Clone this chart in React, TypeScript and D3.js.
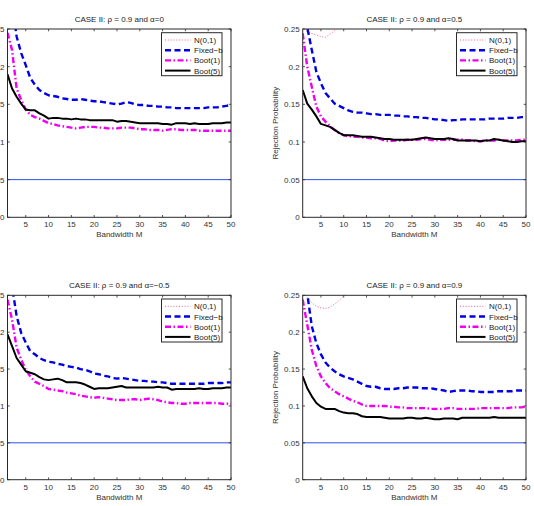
import * as d3 from 'd3';

// Bandwidth grid M = 1..50
const bandwidths = d3.range(1, 51);

const xTicks = [5, 10, 15, 20, 25, 30, 35, 40, 45, 50];
const yTicks = [0, 0.05, 0.1, 0.15, 0.2, 0.25];
const nominalLevel = 0.05;

const seriesNames = ['N(0,1)', 'Fixed\u2212b', 'Boot(1)', 'Boot(5)'];

const panelTitles = [
  'CASE II: \u03c1 = 0.9 and \u03b1=0',
  'CASE II: \u03c1 = 0.9 and \u03b1=0.5',
  'CASE II: \u03c1 = 0.9 and \u03b1=\u22120.5',
  'CASE II: \u03c1 = 0.9 and \u03b1=0.9',
];

// alpha = 0
const n01A0 = [0.40, 0.35, 0.32, 0.30, 0.295, 0.29, 0.29, 0.29, 0.292, 0.295, 0.297, 0.30, 0.30, 0.302, 0.305, 0.305, 0.307, 0.31, 0.31, 0.312, 0.313, 0.315, 0.316, 0.318, 0.32, 0.32, 0.322, 0.323, 0.325, 0.326, 0.327, 0.328, 0.33, 0.33, 0.332, 0.333, 0.335, 0.336, 0.337, 0.338, 0.34, 0.34, 0.342, 0.343, 0.345, 0.346, 0.347, 0.348, 0.35, 0.35];
const fixedA0 = [0.330, 0.285, 0.240, 0.218, 0.202, 0.185, 0.176, 0.169, 0.165, 0.162, 0.161, 0.160, 0.158, 0.157, 0.156, 0.156, 0.157, 0.156, 0.155, 0.154, 0.154, 0.153, 0.152, 0.151, 0.150, 0.151, 0.153, 0.152, 0.150, 0.149, 0.149, 0.148, 0.148, 0.147, 0.147, 0.146, 0.146, 0.145, 0.145, 0.145, 0.145, 0.145, 0.145, 0.145, 0.146, 0.146, 0.146, 0.147, 0.148, 0.149];
const boot1A0 = [0.245, 0.222, 0.171, 0.156, 0.143, 0.136, 0.133, 0.131, 0.128, 0.125, 0.124, 0.122, 0.121, 0.120, 0.119, 0.118, 0.119, 0.120, 0.120, 0.120, 0.119, 0.119, 0.118, 0.118, 0.118, 0.119, 0.119, 0.119, 0.118, 0.117, 0.117, 0.116, 0.116, 0.116, 0.115, 0.116, 0.117, 0.117, 0.116, 0.116, 0.116, 0.116, 0.115, 0.115, 0.115, 0.115, 0.115, 0.115, 0.115, 0.115];
const boot5A0 = [0.190, 0.171, 0.160, 0.151, 0.143, 0.142, 0.142, 0.138, 0.135, 0.131, 0.132, 0.132, 0.131, 0.131, 0.130, 0.131, 0.130, 0.130, 0.129, 0.129, 0.129, 0.129, 0.129, 0.129, 0.127, 0.128, 0.128, 0.127, 0.126, 0.125, 0.125, 0.125, 0.125, 0.125, 0.124, 0.124, 0.123, 0.125, 0.125, 0.125, 0.124, 0.125, 0.124, 0.124, 0.124, 0.125, 0.125, 0.125, 0.126, 0.126];

// alpha = 0.5
const n01A05 = [0.265, 0.246, 0.244, 0.242, 0.240, 0.239, 0.243, 0.248, 0.256, 0.265, 0.272, 0.278, 0.283, 0.287, 0.29, 0.293, 0.296, 0.298, 0.30, 0.302, 0.304, 0.306, 0.308, 0.31, 0.312, 0.313, 0.315, 0.316, 0.318, 0.32, 0.321, 0.322, 0.324, 0.325, 0.326, 0.328, 0.329, 0.33, 0.331, 0.332, 0.334, 0.335, 0.336, 0.337, 0.338, 0.339, 0.34, 0.341, 0.342, 0.343];
const fixedA05 = [0.300, 0.252, 0.222, 0.193, 0.178, 0.165, 0.158, 0.151, 0.148, 0.145, 0.142, 0.140, 0.139, 0.139, 0.138, 0.137, 0.137, 0.136, 0.136, 0.136, 0.135, 0.135, 0.134, 0.134, 0.133, 0.133, 0.132, 0.132, 0.131, 0.130, 0.130, 0.129, 0.128, 0.129, 0.129, 0.130, 0.130, 0.130, 0.130, 0.130, 0.130, 0.131, 0.131, 0.131, 0.131, 0.132, 0.132, 0.132, 0.133, 0.133];
const boot1A05 = [0.244, 0.200, 0.173, 0.147, 0.134, 0.127, 0.121, 0.116, 0.112, 0.109, 0.108, 0.107, 0.107, 0.106, 0.106, 0.105, 0.105, 0.104, 0.102, 0.101, 0.102, 0.102, 0.102, 0.103, 0.103, 0.103, 0.104, 0.104, 0.103, 0.102, 0.103, 0.103, 0.103, 0.103, 0.103, 0.103, 0.102, 0.102, 0.101, 0.101, 0.102, 0.102, 0.102, 0.103, 0.102, 0.102, 0.102, 0.102, 0.103, 0.103];
const boot5A05 = [0.169, 0.151, 0.143, 0.134, 0.124, 0.122, 0.120, 0.116, 0.112, 0.109, 0.109, 0.109, 0.108, 0.107, 0.107, 0.107, 0.106, 0.105, 0.104, 0.104, 0.103, 0.103, 0.103, 0.103, 0.103, 0.104, 0.105, 0.106, 0.105, 0.104, 0.104, 0.104, 0.105, 0.104, 0.102, 0.102, 0.102, 0.102, 0.102, 0.101, 0.102, 0.102, 0.104, 0.103, 0.102, 0.101, 0.100, 0.100, 0.101, 0.101];

// alpha = -0.5
const n01Am05 = [0.42, 0.37, 0.34, 0.32, 0.31, 0.305, 0.30, 0.30, 0.30, 0.302, 0.304, 0.306, 0.308, 0.31, 0.312, 0.314, 0.316, 0.318, 0.32, 0.322, 0.324, 0.326, 0.327, 0.329, 0.33, 0.332, 0.333, 0.335, 0.336, 0.338, 0.339, 0.34, 0.342, 0.343, 0.344, 0.345, 0.347, 0.348, 0.349, 0.35, 0.351, 0.352, 0.353, 0.354, 0.355, 0.356, 0.357, 0.358, 0.359, 0.36];
const fixedAm05 = [0.320, 0.262, 0.222, 0.199, 0.186, 0.174, 0.170, 0.165, 0.162, 0.160, 0.159, 0.157, 0.156, 0.154, 0.153, 0.152, 0.150, 0.149, 0.147, 0.144, 0.143, 0.141, 0.140, 0.138, 0.137, 0.138, 0.137, 0.136, 0.135, 0.134, 0.134, 0.133, 0.133, 0.132, 0.132, 0.131, 0.130, 0.130, 0.130, 0.130, 0.130, 0.130, 0.130, 0.130, 0.131, 0.131, 0.131, 0.131, 0.132, 0.132];
const boot1Am05 = [0.244, 0.217, 0.179, 0.163, 0.149, 0.140, 0.133, 0.130, 0.127, 0.123, 0.122, 0.121, 0.120, 0.118, 0.117, 0.116, 0.114, 0.113, 0.112, 0.111, 0.112, 0.111, 0.110, 0.109, 0.108, 0.108, 0.108, 0.109, 0.109, 0.108, 0.109, 0.110, 0.109, 0.108, 0.106, 0.105, 0.104, 0.104, 0.103, 0.103, 0.104, 0.104, 0.104, 0.104, 0.104, 0.104, 0.104, 0.103, 0.103, 0.103];
const boot5Am05 = [0.197, 0.181, 0.165, 0.156, 0.147, 0.145, 0.143, 0.139, 0.136, 0.135, 0.136, 0.137, 0.135, 0.132, 0.132, 0.132, 0.131, 0.129, 0.126, 0.123, 0.124, 0.124, 0.124, 0.125, 0.126, 0.127, 0.125, 0.125, 0.125, 0.125, 0.125, 0.125, 0.125, 0.126, 0.125, 0.125, 0.122, 0.123, 0.123, 0.123, 0.123, 0.123, 0.124, 0.123, 0.123, 0.124, 0.124, 0.124, 0.125, 0.125];

// alpha = 0.9
const n01A09 = [0.265, 0.247, 0.240, 0.235, 0.233, 0.232, 0.234, 0.238, 0.243, 0.249, 0.256, 0.262, 0.267, 0.271, 0.275, 0.278, 0.281, 0.284, 0.286, 0.288, 0.29, 0.292, 0.294, 0.296, 0.298, 0.30, 0.301, 0.303, 0.304, 0.306, 0.307, 0.308, 0.31, 0.311, 0.312, 0.313, 0.315, 0.316, 0.317, 0.318, 0.319, 0.32, 0.321, 0.322, 0.323, 0.324, 0.325, 0.326, 0.327, 0.328];
const fixedA09 = [0.310, 0.252, 0.208, 0.185, 0.170, 0.159, 0.152, 0.147, 0.143, 0.140, 0.138, 0.136, 0.133, 0.130, 0.127, 0.126, 0.126, 0.124, 0.123, 0.123, 0.123, 0.124, 0.124, 0.125, 0.125, 0.125, 0.124, 0.124, 0.124, 0.123, 0.122, 0.121, 0.119, 0.120, 0.121, 0.121, 0.121, 0.120, 0.120, 0.119, 0.119, 0.119, 0.119, 0.120, 0.120, 0.120, 0.120, 0.121, 0.121, 0.121];
const boot1A09 = [0.244, 0.210, 0.176, 0.154, 0.140, 0.131, 0.124, 0.120, 0.116, 0.113, 0.110, 0.107, 0.105, 0.102, 0.100, 0.100, 0.100, 0.100, 0.100, 0.099, 0.099, 0.098, 0.098, 0.097, 0.097, 0.097, 0.097, 0.097, 0.096, 0.096, 0.096, 0.096, 0.097, 0.097, 0.096, 0.096, 0.096, 0.096, 0.096, 0.097, 0.097, 0.097, 0.097, 0.097, 0.097, 0.097, 0.098, 0.098, 0.098, 0.099];
const boot5A09 = [0.140, 0.124, 0.113, 0.104, 0.099, 0.096, 0.096, 0.096, 0.093, 0.091, 0.090, 0.090, 0.089, 0.086, 0.085, 0.085, 0.085, 0.085, 0.084, 0.083, 0.083, 0.083, 0.083, 0.084, 0.084, 0.083, 0.083, 0.084, 0.083, 0.082, 0.082, 0.083, 0.083, 0.083, 0.082, 0.084, 0.084, 0.084, 0.084, 0.084, 0.084, 0.084, 0.085, 0.084, 0.084, 0.084, 0.084, 0.084, 0.084, 0.084];

const panelSeries = [
  [n01A0, fixedA0, boot1A0, boot5A0],
  [n01A05, fixedA05, boot1A05, boot5A05],
  [n01Am05, fixedAm05, boot1Am05, boot5Am05],
  [n01A09, fixedA09, boot1A09, boot5A09],
];

// line styles in the same order as seriesNames
const styles = [
  { color: '#f2608c', width: 1, dash: '1,1.8' },
  { color: '#0000e6', width: 2.4, dash: '6,3.5' },
  { color: '#f000f0', width: 2.4, dash: '6,2.5,1.5,2.5' },
  { color: '#000000', width: 2, dash: '' },
];

// plot boxes: left, top, width, height
const boxes = [
  { x: 7.5, y: 29, w: 223.5, h: 188.3 },
  { x: 302.7, y: 29, w: 223.3, h: 188.3 },
  { x: 7.5, y: 295.3, w: 223.5, h: 184.4 },
  { x: 302.7, y: 295.3, w: 223.3, h: 184.4 },
];

const FONT = '"Liberation Sans", Arial, Helvetica, sans-serif';
const AXIS = '#2a2a2a';

function Panel({ idx }: { idx: number }) {
  const b = boxes[idx];
  const x = d3.scaleLinear().domain([1, 50]).range([b.x, b.x + b.w]);
  const y = d3.scaleLinear().domain([0, 0.25]).range([b.y + b.h, b.y]);
  const line = d3
    .line<number>()
    .x((_, i) => x(bandwidths[i]))
    .y((d) => y(d));
  const fmt = (v: number) => (v === 0 ? '0' : String(+v.toFixed(2)));
  const tick = 2.3;
  const clipId = `clip-${idx}`;

  // legend box anchored to the upper right of the axes
  const lw = 60.5;
  const lh = 43;
  const lx = b.x + b.w - 9 - lw;
  const ly = b.y + 3.7;

  return (
    <g>
      <defs>
        <clipPath id={clipId}>
          <rect x={b.x} y={b.y} width={b.w} height={b.h} />
        </clipPath>
      </defs>
      <rect x={b.x} y={b.y} width={b.w} height={b.h} fill="#fff" />

      <text
        x={b.x + b.w / 2}
        y={b.y - 7}
        textAnchor="middle"
        fontSize={8}
        fontFamily={FONT}
        fill="#222"
      >
        {panelTitles[idx]}
      </text>

      <g clipPath={`url(#${clipId})`}>
        <line
          x1={b.x}
          x2={b.x + b.w}
          y1={y(nominalLevel)}
          y2={y(nominalLevel)}
          stroke="#2f4fe8"
          strokeWidth={1}
        />
        {panelSeries[idx].map((vals, s) => (
          <path
            key={s}
            d={line(vals) || ''}
            fill="none"
            stroke={styles[s].color}
            strokeWidth={styles[s].width}
            strokeDasharray={styles[s].dash || undefined}
            strokeLinejoin="round"
          />
        ))}
      </g>

      {/* box and inward ticks on all four sides */}
      <rect x={b.x} y={b.y} width={b.w} height={b.h} fill="none" stroke={AXIS} strokeWidth={1} />
      {xTicks.map((t) => (
        <g key={`x${t}`}>
          <line x1={x(t)} x2={x(t)} y1={b.y + b.h} y2={b.y + b.h - tick} stroke={AXIS} strokeWidth={0.8} />
          <line x1={x(t)} x2={x(t)} y1={b.y} y2={b.y + tick} stroke={AXIS} strokeWidth={0.8} />
          <text
            x={x(t)}
            y={b.y + b.h + 10}
            textAnchor="middle"
            fontSize={8}
            fontFamily={FONT}
            fill="#333"
          >
            {t}
          </text>
        </g>
      ))}
      {yTicks.map((t) => (
        <g key={`y${t}`}>
          <line x1={b.x} x2={b.x + tick} y1={y(t)} y2={y(t)} stroke={AXIS} strokeWidth={0.8} />
          <line x1={b.x + b.w} x2={b.x + b.w - tick} y1={y(t)} y2={y(t)} stroke={AXIS} strokeWidth={0.8} />
          <text
            x={b.x - 3}
            y={y(t) + 3}
            textAnchor="end"
            fontSize={8}
            fontFamily={FONT}
            fill="#333"
          >
            {fmt(t)}
          </text>
        </g>
      ))}

      <text
        x={b.x + b.w / 2}
        y={b.y + b.h + 20}
        textAnchor="middle"
        fontSize={8}
        fontFamily={FONT}
        fill="#333"
      >
        Bandwidth M
      </text>
      <text
        transform={`translate(${b.x - 25},${b.y + b.h / 2}) rotate(-90)`}
        textAnchor="middle"
        fontSize={8}
        fontFamily={FONT}
        fill="#333"
      >
        Rejection Probability
      </text>

      <g>
        <rect x={lx} y={ly} width={lw} height={lh} fill="#fff" stroke={AXIS} strokeWidth={1} />
        {seriesNames.map((name, s) => {
          const ry = ly + 7.3 + s * 10.2;
          return (
            <g key={name}>
              <line
                x1={lx + 3.5}
                x2={lx + 29}
                y1={ry}
                y2={ry}
                stroke={styles[s].color}
                strokeWidth={styles[s].width}
                strokeDasharray={styles[s].dash || undefined}
              />
              <text x={lx + 32.5} y={ry + 3} fontSize={8} fontFamily={FONT} fill="#222">
                {name}
              </text>
            </g>
          );
        })}
      </g>
    </g>
  );
}

export default function App() {
  return (
    <svg
      width={534}
      height={506}
      style={{ position: 'absolute', left: 0, top: 0, background: '#fff' }}
    >
      <rect width={534} height={506} fill="#fff" />
      {boxes.map((_, i) => (
        <Panel key={i} idx={i} />
      ))}
    </svg>
  );
}
